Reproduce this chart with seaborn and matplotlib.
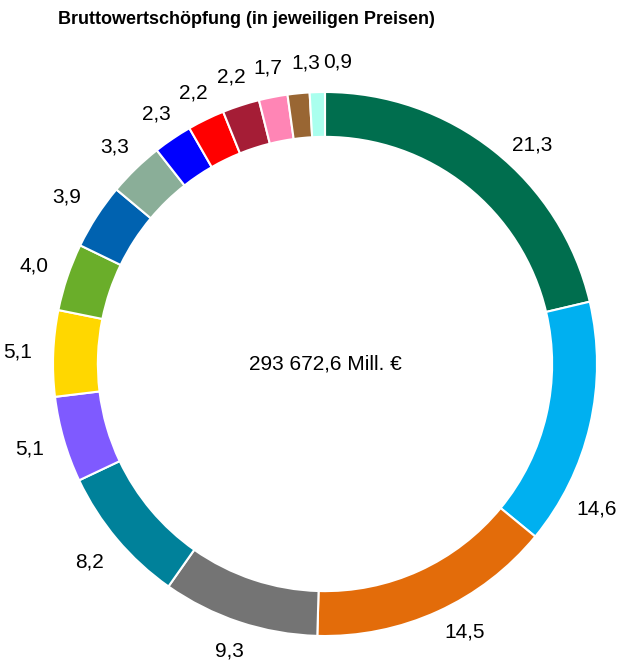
import matplotlib
matplotlib.use("Agg")
import matplotlib.pyplot as plt
import numpy as np
import seaborn as sns

sns.set_theme(style="white")
plt.rcParams["font.family"] = ["Liberation Sans", "DejaVu Sans"]
plt.rcParams["text.color"] = "black"

values = [21.3, 14.6, 14.5, 9.3, 8.2, 5.1, 5.1, 4.0, 3.9, 3.3, 2.3, 2.2, 2.2, 1.7, 1.3, 0.9]
labels = ["21,3", "14,6", "14,5", "9,3", "8,2", "5,1", "5,1", "4,0", "3,9", "3,3",
          "2,3", "2,2", "2,2", "1,7", "1,3", "0,9"]
colors = ["#006E4E", "#00B0F0", "#E36C0A", "#747474", "#00819A", "#7F5AFF",
          "#FFD700", "#6AAE2A", "#0062B0", "#8AAE98", "#0000FF", "#FF0000",
          "#A51D36", "#FF85B5", "#996633", "#AAFFEE"]
total_text = "293 672,6 Mill. €"
title = "Bruttowertschöpfung (in jeweiligen Preisen)"

# small nudges (degrees) for label placement, like the original's layout
label_nudge = {0: -5, 1: -15, 2: 3, 14: -2, 15: -4}

fig = plt.figure(figsize=(6.23, 6.62), dpi=100)
ax = fig.add_axes([0, 0, 1, 1])

wedges, _ = ax.pie(
    values,
    colors=colors,
    startangle=90,
    counterclock=False,
    radius=1.0,
    wedgeprops=dict(width=0.165, edgecolor="white", linewidth=1.5),
)

for i, (w, lab) in enumerate(zip(wedges, labels)):
    ang = np.deg2rad((w.theta1 + w.theta2) / 2 + label_nudge.get(i, 0))
    r = 1.11 if abs(np.cos(ang)) < 0.7 else 1.13
    ax.text(r * np.cos(ang), r * np.sin(ang), lab, ha="center", va="center",
            fontsize=15)

ax.text(0, 0, total_text, ha="center", va="center", fontsize=15)

ax.set_aspect("equal")
ax.set_xlim(-325 / 272, (623 - 325) / 272)
ax.set_ylim(-(662 - 364) / 272, 364 / 272)
ax.axis("off")

fig.text(246 / 623, 1 - 20 / 662, title, ha="center", va="center",
         fontsize=13, fontweight="bold")

fig.savefig("out.png", dpi=100)
